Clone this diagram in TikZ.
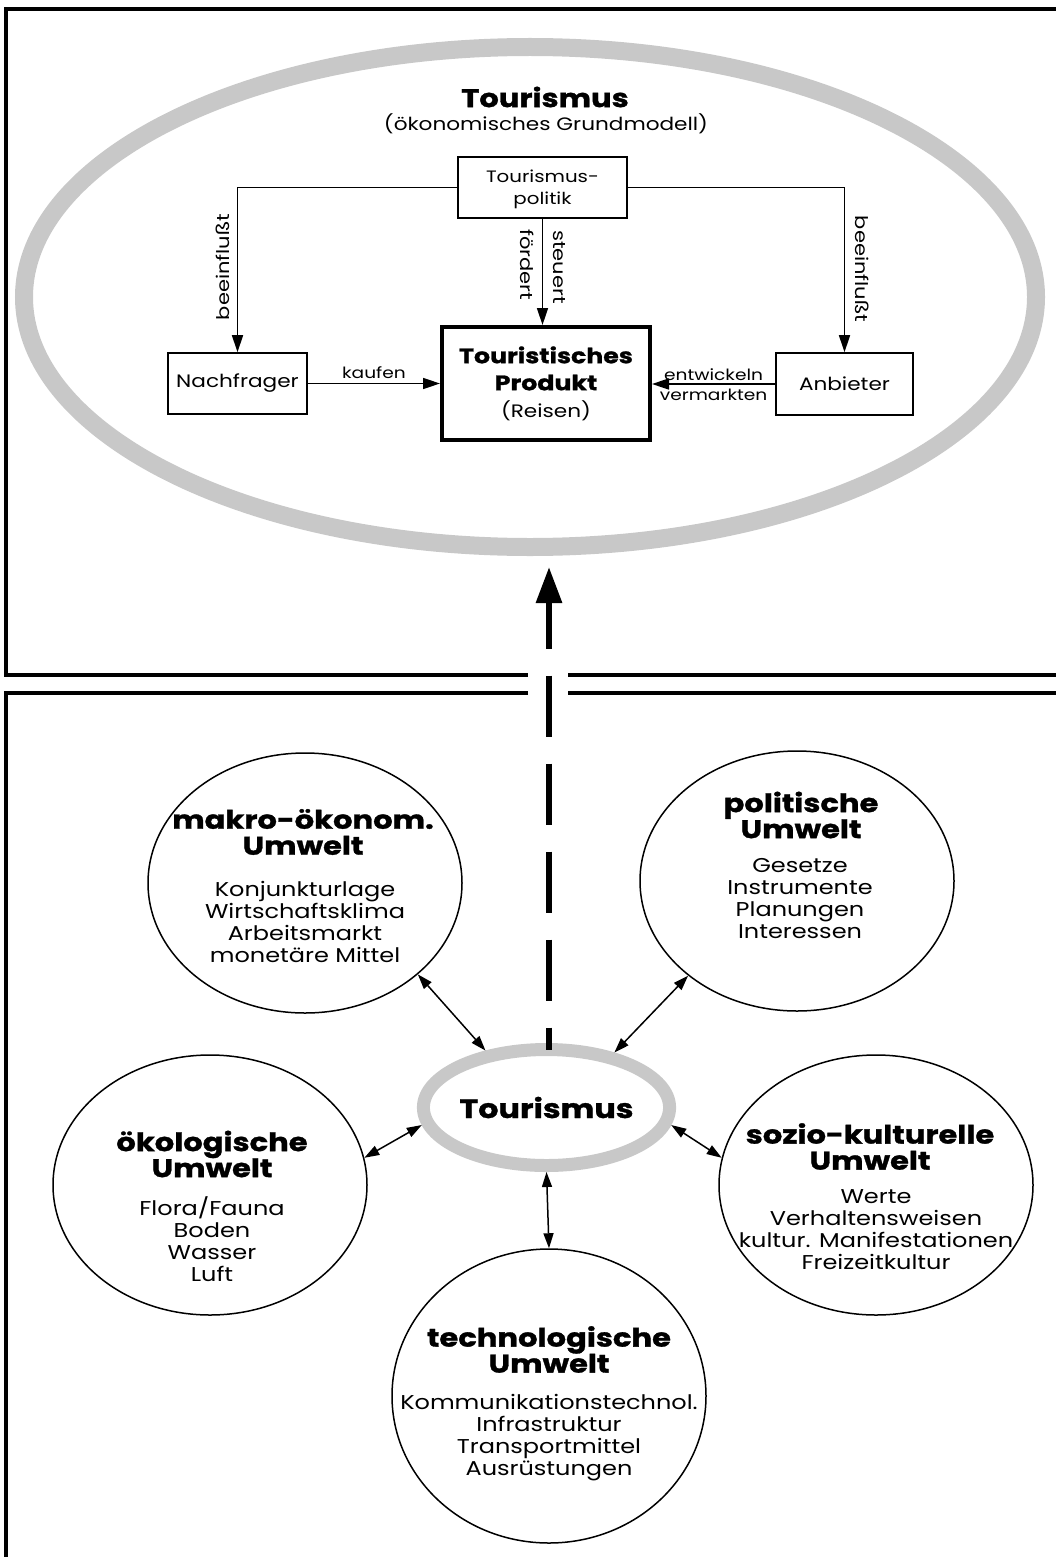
\documentclass[tikz,border=0pt]{standalone}
\usepackage{fontspec}
\setmainfont{Poppins}[FakeStretch=1.2, BoldFeatures={FakeBold=1.2}]
\usetikzlibrary{arrows.meta,shapes.geometric}
\definecolor{ringgray}{RGB}{200,200,200}
\tikzset{
  frameline/.style={line width=3.5pt, black},
  ring/.style={draw=ringgray, ellipse, inner sep=0pt},
  box/.style={draw, line width=1.6pt, inner sep=0pt, align=center},
  umwelt/.style={draw, ellipse, line width=1.5pt, minimum width=314pt, minimum height=260pt, inner sep=0pt},
  flow/.style={line width=1.6pt, -{Triangle[length=17pt,width=11pt]}},
  link/.style={line width=1.5pt, {Triangle[length=15pt,width=10pt]}-{Triangle[length=15pt,width=10pt]}},
  lbl/.style={font=\fontsize{15.5}{17}\selectfont, inner sep=1pt},
  vlbl/.style={font=\fontsize{17.5}{19}\selectfont, inner sep=0pt},
  boxtext/.style={font=\fontsize{18}{22}\selectfont},
  head/.style={font=\fontsize{25.5}{26}\selectfont\bfseries, align=center, inner sep=0pt},
  items/.style={font=\fontsize{20}{22}\selectfont, align=center, inner sep=0pt},
}
\begin{document}
\begin{tikzpicture}[x=1pt,y=-1pt]
\useasboundingbox (0,0) rectangle (1056,1557);

% frames of the two panels, open where the dashed arrow passes
\draw[frameline] (1056,9) -- (6,9) -- (6,675) -- (528,675);
\draw[frameline] (568,675) -- (1056,675);
\draw[frameline] (528,693) -- (6,693) -- (6,1557);
\draw[frameline] (568,693) -- (1056,693);

% ---------- upper panel: economic base model ----------
\node[ring, line width=18pt, minimum width=1012pt, minimum height=500pt] (bigring) at (530,297) {};
\node[font=\fontsize{25.5}{30}\selectfont\bfseries, inner sep=0pt] (title) at (545,97) {Tourismus};
\node[font=\fontsize{18}{22}\selectfont, inner sep=0pt] (subtitle) at (546,124) {(ökonomisches Grundmodell)};

\node[box, font=\fontsize{16.5}{22}\selectfont, minimum width=169pt, minimum height=61pt,
      text depth=0pt] (pol) at (542.5,187.5) {Tourismus-\\politik};
\node[box, boxtext, minimum width=139pt, minimum height=61pt] (nach) at (237.5,383.5) {Nachfrager};
\node[box, line width=4pt, minimum width=208pt, minimum height=113pt,
      font=\fontsize{21}{27}\selectfont\bfseries] (prod) at (546,383.5)
  {Touristisches\\Produkt\\[0pt]\mdseries\fontsize{18}{22}\selectfont (Reisen)};
\node[box, boxtext, minimum width=137pt, minimum height=62pt] (anb) at (844.5,384) {Anbieter};

\draw[flow] (pol.west) -| (nach.north);
\draw[flow] (pol.east) -| (anb.north);
\draw[flow] (pol.south) -- (pol.south |- prod.north);
\draw[flow] (nach.east) -- (nach.east -| prod.west)
  node[lbl, midway, above=3pt] {kaufen};
\draw[flow] (anb.west) -- (anb.west -| prod.east)
  node[lbl, midway, above=2pt] {entwickeln}
  node[lbl, midway, below=3pt] {vermarkten};

% labels along the vertical connectors
\node[vlbl, rotate=90]  (lblL) at (223,267) {beeinflußt};
\node[vlbl, rotate=-90] (lblR) at (862,269) {beeinflußt};
\node[vlbl, rotate=-90] (lblF) at (527,265) {fördert};
\node[vlbl, rotate=-90] (lblS) at (559,267) {steuert};

% ---------- lower panel: environments of tourism ----------
\node[ring, line width=13pt, minimum width=230pt, minimum height=116pt,
      font=\fontsize{26.5}{30}\selectfont\bfseries] (tour) at (546.5,1107.5) {Tourismus};

\node[umwelt] (makro) at (305,883) {};
\node[umwelt] (polit) at (797,881) {};
\node[umwelt] (oeko)  at (210,1185) {};
\node[umwelt] (sozio) at (876,1185) {};
\node[umwelt, minimum height=294pt] (tech) at (549,1396) {};

\node[head]  at (303,832)   {makro-ökonom.\\Umwelt};
\node[items] at (305,921.5) {Konjunkturlage\\Wirtschaftsklima\\Arbeitsmarkt\\monetäre Mittel};
\node[head]  at (801,815)   {politische\\Umwelt};
\node[items] at (800,899)   {Gesetze\\Instrumente\\Planungen\\Interessen};
\node[head]  at (212,1154)  {ökologische\\Umwelt};
\node[items] at (212,1239.5){Flora/Fauna\\Boden\\Wasser\\Luft};
\node[head]  at (870,1146.5){sozio-kulturelle\\Umwelt};
\node[items] at (876,1230)  {Werte\\Verhaltensweisen\\kultur. Manifestationen\\Freizeitkultur};
\node[head]  at (549,1349.5){technologische\\Umwelt};
\node[items] at (549,1438)  {Kommunikationstechnol.\\Infrastruktur\\Transportmittel\\Ausrüstungen};

\draw[link] (makro.-39) -- (tour.137);
\draw[link] (polit.-139) -- (tour.39);
\draw[link] (oeko.10) -- (tour.188);
\draw[link] (sozio.170) -- (tour.-8);
\draw[link] (tour.south) -- (tech.north);

% dashed influence arrow from the lower panel up into the base model
\coordinate (dashfoot) at (549,1050);
\coordinate (dashtip) at (549,567);
\draw[line width=6pt, dash pattern=on 61pt off 27pt, dash phase=14pt,
      {Triangle[length=36pt,width=25pt]}-] (dashtip) -- (dashfoot);
\end{tikzpicture}
\end{document}
